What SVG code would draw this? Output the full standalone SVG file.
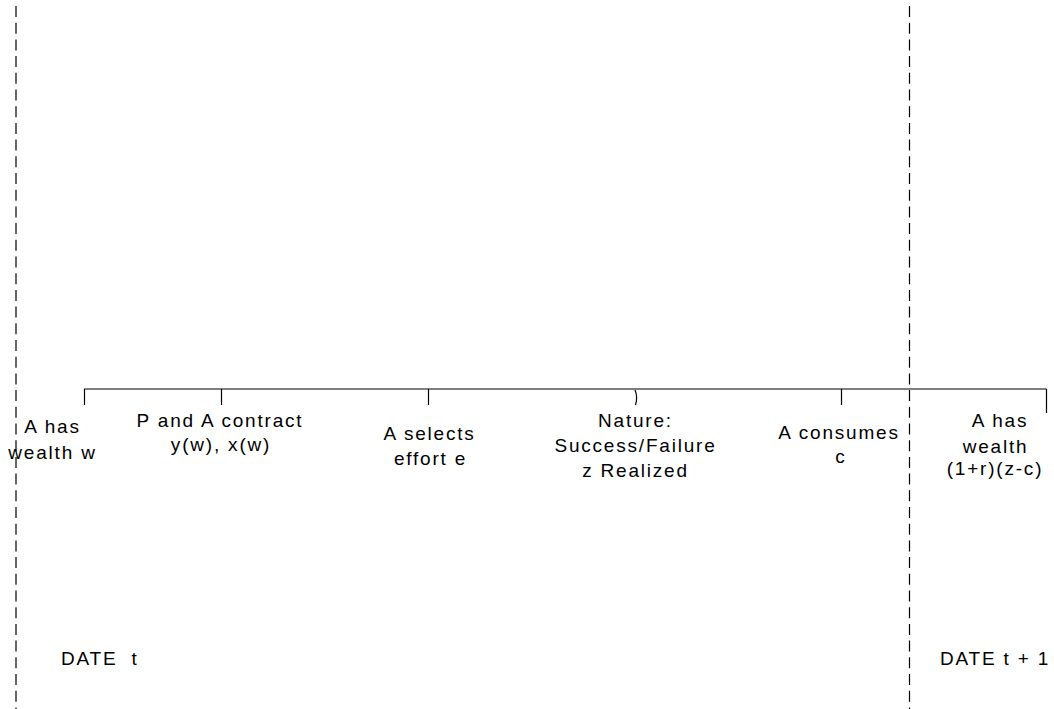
<svg xmlns="http://www.w3.org/2000/svg" width="1054" height="709" viewBox="0 0 1054 709">
<style>
.dash{stroke:#000;stroke-width:1.2;stroke-dasharray:11 5.7;fill:none}
.ln{stroke:#000;stroke-width:1.2;fill:none}
text{font-family:"Liberation Sans",Arial,sans-serif;font-size:19px;letter-spacing:1.8px;fill:#000;white-space:pre}
.m{text-anchor:middle}
</style>
<rect width="1054" height="709" fill="#fff"/>
<g id="connectors">
<line class="dash" x1="16" y1="6" x2="16" y2="709"/>
<line class="dash" x1="909.5" y1="6" x2="909.5" y2="709"/>
<line class="ln" x1="84" y1="389" x2="1046.5" y2="389"/>
<line class="ln" x1="84.5" y1="389" x2="84.5" y2="405"/>
<line class="ln" x1="221.5" y1="389" x2="221.5" y2="405"/>
<line class="ln" x1="428.5" y1="389" x2="428.5" y2="405"/>
<path class="ln" d="M635,390 Q638,397 635.5,405"/>
<line class="ln" x1="841.5" y1="389" x2="841.5" y2="405"/>
<line class="ln" x1="1046.5" y1="389" x2="1046.5" y2="413"/>
</g>
<g id="n1"><text class="m" x="52.5" y="433">A has</text><text class="m" x="52.5" y="459">wealth w</text></g>
<g id="n2"><text class="m" x="220" y="427">P and A contract</text><text class="m" x="221" y="451">y(w), x(w)</text></g>
<g id="n3"><text class="m" x="429.5" y="440">A selects</text><text class="m" x="430.5" y="465">effort e</text></g>
<g id="n4"><text class="m" x="635.5" y="427">Nature:</text><text class="m" x="635.5" y="452">Success/Failure</text><text class="m" x="635.5" y="477">z Realized</text></g>
<g id="n5"><text class="m" x="839" y="439">A consumes</text><text class="m" x="841" y="463">c</text></g>
<g id="n6"><text class="m" x="1000" y="427">A has</text><text class="m" x="995.5" y="453">wealth</text><text class="m" x="995" y="475">(1+r)(z-c)</text></g>
<g id="d1"><text x="61" y="665">DATE  t</text></g>
<g id="d2"><text x="940" y="665">DATE t + 1</text></g>
</svg>
